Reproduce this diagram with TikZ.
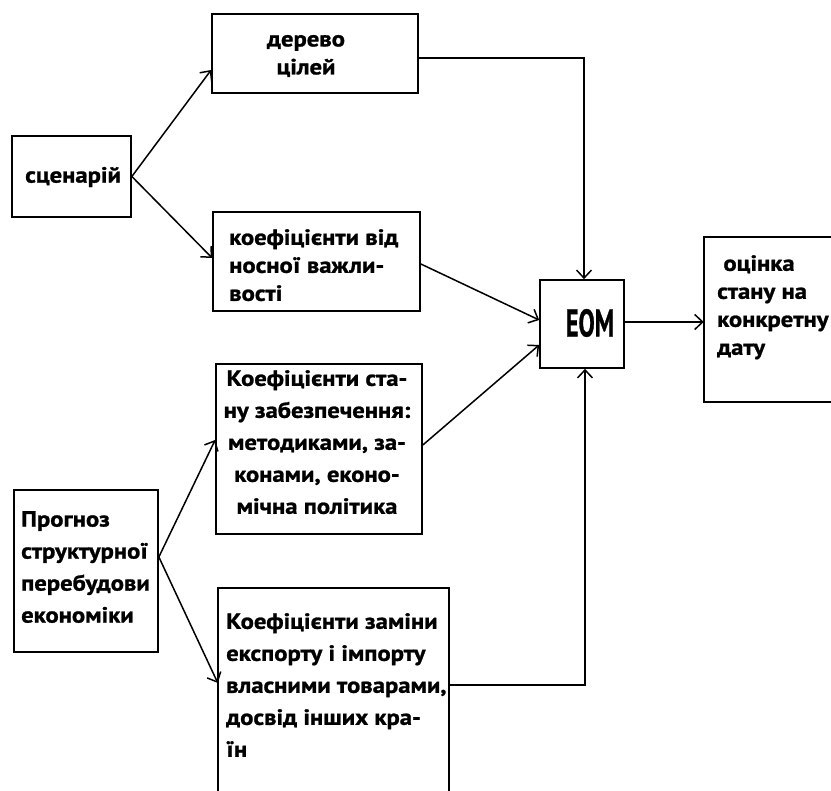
\documentclass[tikz,border=0pt]{standalone}
\usepackage{fontspec}
\setmainfont{PT Sans}[FakeStretch=1.12,BoldFeatures={FakeBold=1.2}]
\usepackage{graphicx}
\usetikzlibrary{arrows.meta}
\begin{document}
\begin{tikzpicture}[x=1pt,y=1pt,
  box/.style={draw,line width=1.7pt,inner sep=0pt},
  openbox/.style={inner sep=0pt},
  txt/.style={inner sep=0pt,font=\fontsize{22}{28}\selectfont\bfseries},
  txtw/.style={inner sep=0pt,font=\fontsize{22}{32}\selectfont\bfseries},
  arr/.style={line width=1.5pt,-{Straight Barb[length=8pt,width=15pt,line width=1.5pt]}},
  ln/.style={line width=1.5pt}]
\useasboundingbox (0,0) rectangle (831,791);
% boxes
\node[box,minimum width=119pt,minimum height=81pt] (scen) at (71.5,614.5) {};
\node[box,minimum width=206pt,minimum height=79pt] (derevo) at (315,737.5) {};
\node[box,minimum width=207pt,minimum height=99pt] (kv) at (316.5,529.5) {};
\node[box,minimum width=206pt,minimum height=170pt] (ks) at (319,342) {};
\node[box,minimum width=144pt,minimum height=162pt] (prog) at (86,220) {};
\node[openbox,minimum width=231pt,minimum height=203pt] (zam) at (333.5,101.5) {};
\draw[line width=1.7pt] (zam.south west) |- (zam.north east) -- (zam.south east);
\node[box,minimum width=84pt,minimum height=88pt] (eom) at (582,467) {};
\node[openbox,minimum width=127pt,minimum height=165pt] (ocinka) at (767.5,471.5) {};
\draw[line width=1.7pt] (ocinka.north east) -| (ocinka.south west) -- (ocinka.south east);
% texts
\node[txt,anchor=west] (scen-t) at (25,614) {сценарій};
\node[txt,align=center] (derevo-t) at (306,735) {дерево\\цілей};
\node[txt,align=left,anchor=north west] (kv-t) at (229,562) {коефіцієнти від\\носної важли-\\вості};
\node[txtw,align=center,anchor=north] (ks-t) at (317,421) {Коефіцієнти ста-\\ну забезпечення:\\методиками, за-\\конами, еконо-\\мічна політика};
\node[txtw,align=left,anchor=north west] (prog-t) at (21,280) {Прогноз\\структурної\\перебудови\\економіки};
\node[txtw,align=left,anchor=north west] (zam-t) at (226,178) {Коефіцієнти заміни\\експорту і імпорту\\власними товарами,\\досвід інших кра-\\їн};
\node[txt,align=left,anchor=north west] (ocinka-t) at (717,536) {\ оцінка\\стану на\\конкретну\\дату};
\node[inner sep=0pt] (eom-t) at (590,468) {\scalebox{0.9}[1.6]{\fontsize{24}{24}\selectfont\bfseries ЕОМ}};
% connectors
\draw[arr] (scen.east) -- ([yshift=-16.5pt]derevo.west);
\draw[arr] (scen.east) -- ([yshift=3.5pt]kv.west);
\draw[arr] ([yshift=-4.5pt]derevo.east) -| ([xshift=2pt]eom.north);
\draw[arr] ([yshift=-2.5pt]kv.east) -- ([yshift=4pt]eom.west);
\draw[arr] ([yshift=4pt]ks.east) -- ([yshift=-21pt]eom.west);
\draw[arr] ([yshift=4.5pt]zam.east) -| ([xshift=3pt]eom.south);
\draw[arr] ([yshift=2pt]eom.east) -- ([yshift=2pt]eom.east -| ocinka.west);
\draw[arr] ([yshift=14pt]prog.east) -- ([yshift=9pt]ks.west);
\draw[arr] ([yshift=14pt]prog.east) -- ([yshift=6.5pt]zam.west);
\end{tikzpicture}
\end{document}
